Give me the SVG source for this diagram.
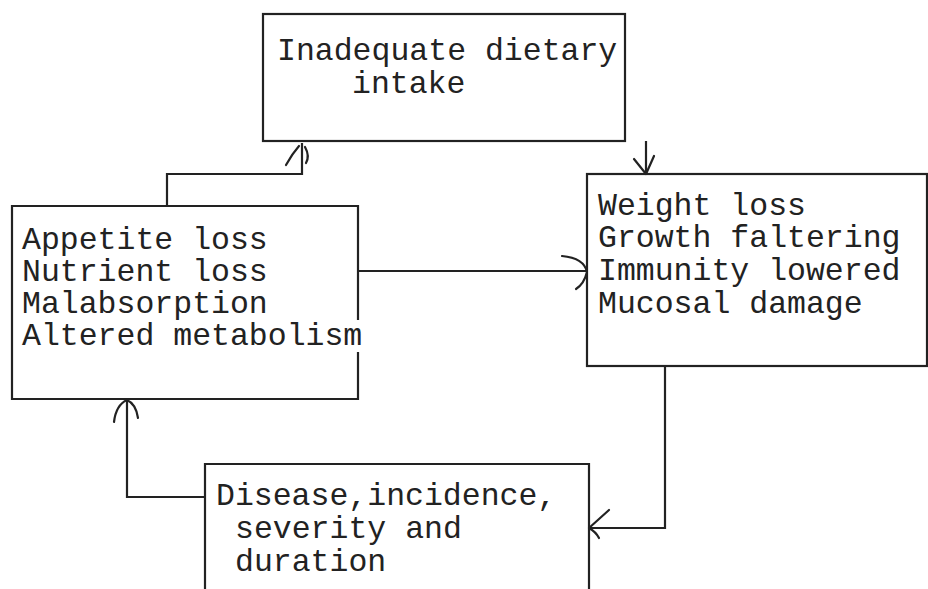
<svg xmlns="http://www.w3.org/2000/svg" width="928" height="589" viewBox="0 0 928 589">
<style>
.box{fill:none;stroke:#222;stroke-width:2.2}
.con{fill:none;stroke:#222;stroke-width:2.2}
.head{fill:none;stroke:#222;stroke-width:2.2;stroke-linecap:round;stroke-linejoin:round}
text{font-family:"Liberation Mono","Courier New",monospace;font-size:31.5px;fill:#222}
</style>
<rect width="928" height="589" fill="#fff"/>
<g id="connectors">
<path class="con" d="M167,206 V174 H302 V143"/>
<path class="head" d="M286,165 Q292,154 299,146 M305,147 Q310,156 306,163"/>
<path class="con" d="M646,141 V174"/>
<path class="head" d="M634,159 L646,174 L654,156"/>
<path class="con" d="M358,271 H587"/>
<path class="head" d="M562,256 Q584,258 587,272 Q584,284 576,289"/>
<path class="con" d="M665,366 V528 H589"/>
<path class="head" d="M609,510 L589,528 Q596,532 599,538"/>
<path class="con" d="M205,497 H127 V399"/>
<path class="head" d="M114,422 Q116,405 127,400 Q136,404 138,418"/>
</g>
<g id="node-intake">
<rect class="box" x="263" y="14" width="362" height="127"/>
<text x="277" y="60">Inadequate dietary</text>
<text x="352" y="93">intake</text>
</g>
<g id="node-appetite">
<path class="box" d="M358,320 V206 H12 V399 H358 V352"/>
<text x="22" y="249">Appetite loss</text>
<text x="22" y="281">Nutrient loss</text>
<text x="22" y="313">Malabsorption</text>
<text x="22" y="345">Altered metabolism</text>
</g>
<g id="node-weight">
<rect class="box" x="587" y="174" width="340" height="192"/>
<text x="598" y="215">Weight loss</text>
<text x="598" y="247">Growth faltering</text>
<text x="598" y="280">Immunity lowered</text>
<text x="598" y="313">Mucosal damage</text>
</g>
<g id="node-disease">
<path class="box" d="M205,590 V464 H589 V590"/>
<text x="216" y="505">Disease,incidence,</text>
<text x="235" y="538">severity and</text>
<text x="235" y="571">duration</text>
</g>
</svg>
